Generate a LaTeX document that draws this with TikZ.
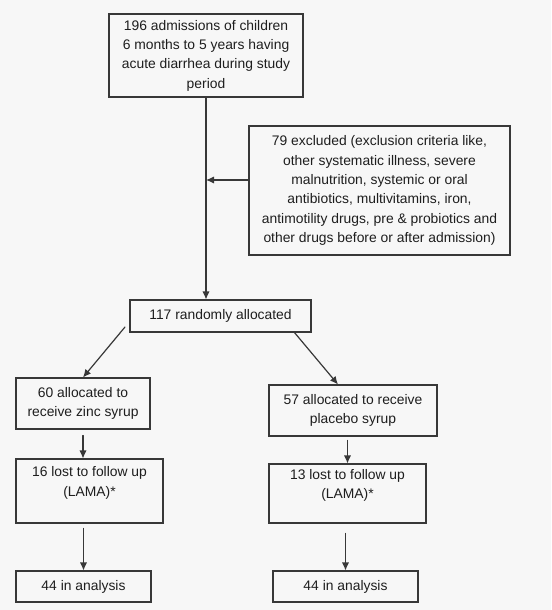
\documentclass[tikz,border=0pt]{standalone}
\usepackage{fontspec}
\setmainfont{Liberation Sans}
\usetikzlibrary{arrows.meta}
\definecolor{ink}{HTML}{1E1E1E}
\definecolor{rule}{HTML}{383838}
\definecolor{paper}{HTML}{F7F7F7}
\begin{document}
\begin{tikzpicture}[x=0.75pt, y=-0.75pt, line cap=round,
    every node/.style={text=ink, font=\fontsize{10.4pt}{14.5pt}\selectfont},
    flowbox/.style={draw=rule, line width=0.8pt, align=center, inner sep=2pt},
    flow/.style={draw=rule, line width=0.9pt, -{Latex[length=6pt,width=5.5pt]}}]
    \fill[paper] (0,0) rectangle (551,610);
    \node[flowbox, minimum width=145.5pt, minimum height=62.25pt] (admit) at (206,55.5)
      {196 admissions of children\\6 months to 5 years having\\acute diarrhea during study\\period};
    \node[flowbox, minimum width=195.75pt, minimum height=96.75pt] (excl) at (379.5,190.5)
      {79 excluded (exclusion criteria like,\\other systematic illness, severe\\malnutrition, systemic or oral\\antibiotics, multivitamins, iron,\\antimotility drugs, pre \& probiotics and\\other drugs before or after admission)};
    \node[flowbox, minimum width=135.75pt, minimum height=24pt] (rand) at (220.5,316) {117 randomly allocated};
    \node[flowbox, minimum width=100.5pt, minimum height=38.25pt] (zinc) at (83,403.5) {60 allocated to\\receive zinc syrup};
    \node[flowbox, minimum width=126pt, minimum height=38.25pt] (placebo) at (353,410.5) {57 allocated to receive\\placebo syrup};
    \node[flowbox, minimum width=110.25pt, minimum height=48pt] (lostL) at (89.5,491) {16 lost to follow up\\(LAMA)*\\\mbox{}};
    \node[flowbox, minimum width=117.75pt, minimum height=44.25pt] (lostR) at (347.5,493.5) {13 lost to follow up\\(LAMA)*\\\mbox{}};
    \node[flowbox, minimum width=101.25pt, minimum height=23.25pt] (anaL) at (83.5,586.5) {44 in analysis};
    \node[flowbox, minimum width=108.75pt, minimum height=23.25pt] (anaR) at (345.5,586.5) {44 in analysis};
    \coordinate (merge) at (206,180);
    \coordinate (splitL) at (125,327);
    \coordinate (splitR) at (294,332);
    \draw[flow] (admit.south) -- (admit.south |- rand.north);
    \draw[flow] (excl.west |- merge) -- (merge);
    \draw[flow] (splitL) -- (zinc.north);
    \draw[flow] (splitR) -- ([xshift=-11.25pt]placebo.north);
    \draw[flow, shorten <=4.5pt] (zinc.south) -- (zinc.south |- lostL.north);
    \draw[flow, shorten <=3pt] (lostR.north |- placebo.south) -- (lostR.north);
    \draw[flow, shorten <=3.75pt] (anaL.north |- lostL.south) -- (anaL.north);
    \draw[flow, shorten <=7.5pt] (anaR.north |- lostR.south) -- (anaR.north);
\end{tikzpicture}
\end{document}
